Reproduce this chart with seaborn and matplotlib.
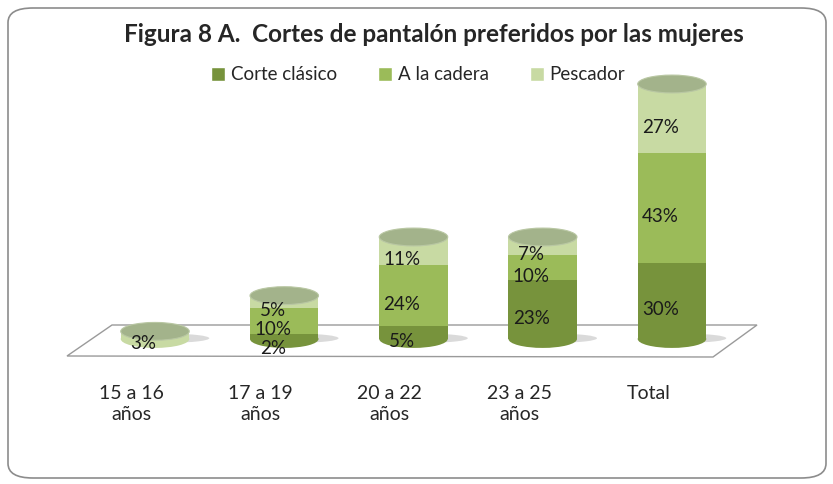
import matplotlib
matplotlib.use("Agg")
import matplotlib.pyplot as plt
import matplotlib.transforms as mtransforms
from matplotlib.patches import Ellipse, Polygon, FancyBboxPatch, Patch
import numpy as np
import pandas as pd
import seaborn as sns

# values (percent)
grupos = ["15 a 16\naños", "17 a 19\naños", "20 a 22\naños", "23 a 25\naños", "Total"]
corte_clasico = [0, 2, 5, 23, 30]
a_la_cadera = [0, 10, 24, 10, 43]
pescador = [3, 5, 11, 7, 27]
series = ["Corte clásico", "A la cadera", "Pescador"]

colores = {"Corte clásico": "#77933C", "A la cadera": "#9BBB59", "Pescador": "#C8DAA3"}
tapa = "#A3B38B"

sns.set_theme(style="white")
plt.rcParams["font.family"] = ["Lato", "DejaVu Sans"]

df = pd.DataFrame({"grupo": grupos, "Corte clásico": corte_clasico,
                   "A la cadera": a_la_cadera, "Pescador": pescador})
df["c1"] = df["Corte clásico"]
df["c2"] = df["c1"] + df["A la cadera"]
df["c3"] = df["c2"] + df["Pescador"]

W, H = 833, 484
fig = plt.figure(figsize=(W / 100, H / 100), dpi=100)

# rounded frame
fig.add_artist(FancyBboxPatch((8 / W, 6 / H), 818 / W, 470 / H,
                              boxstyle="round,pad=0,rounding_size=0.03",
                              transform=fig.transFigure, facecolor="white",
                              edgecolor="#8c8c8c", lw=1.2, zorder=0))

# floor
floor = [(67, 356), (112, 325), (757, 325), (713, 357)]
fig.add_artist(Polygon([(x / W, 1 - y / H) for x, y in floor], closed=True,
                       transform=fig.transFigure, facecolor="white",
                       edgecolor="#9a9a9a", lw=1, zorder=1))

ax = fig.add_axes([67 / W, 1 - 339 / H, 690 / W, 255 / H])
ax.patch.set_alpha(0)
ax.set_zorder(2)

bw = 0.53
eh = 7.0
pos = np.arange(len(grupos))

# shadows
for i in pos:
    ax.add_patch(Ellipse((i + 0.12, 0.3), 0.6, 3.5, facecolor="#6e6e6e",
                         alpha=0.25, lw=0, zorder=1, clip_on=False))

# bottom rounding
for i, row in df.iterrows():
    first = "Corte clásico" if row["Corte clásico"] > 0 else (
        "A la cadera" if row["A la cadera"] > 0 else "Pescador")
    ax.add_patch(Ellipse((i, 0), bw, eh, facecolor=colores[first], lw=0,
                         zorder=2, clip_on=False))

# stacked bars: draw cumulative heights from tallest to shortest
for col, s in [("c3", "Pescador"), ("c2", "A la cadera"), ("c1", "Corte clásico")]:
    sns.barplot(data=df, x="grupo", y=col, color=colores[s], width=bw,
                saturation=1, linewidth=0, ax=ax, zorder=3)

# top caps
for i, row in df.iterrows():
    ax.add_patch(Ellipse((i, row["c3"]), bw, eh, facecolor=tapa,
                         edgecolor="#b9c7a3", lw=0.8, zorder=4, clip_on=False))

# value labels
for i, row in df.iterrows():
    base = 0
    for s in series:
        v = row[s]
        if v > 0:
            dy = -3.4 if v > 2 else -4.6
            ax.text(i - 0.09, base + v / 2 + dy, f"{v}%", ha="center",
                    va="center", fontsize=13.5, color="#1a1a1a", zorder=5)
        base += v

ax.set_xlim(-0.681, 4.658)
ax.set_ylim(0, 100)
ax.set_xlabel("")
ax.set_ylabel("")
ax.set_yticks([])
sns.despine(ax=ax, left=True, bottom=True)
ax.tick_params(axis="x", length=0, pad=33, labelsize=14)
ax.set_xticks(pos)
ax.set_xticklabels(grupos, va="top", linespacing=1.3)
shift = mtransforms.ScaledTranslation(-17 / 72, 0, fig.dpi_scale_trans)
for lab in ax.get_xticklabels():
    lab.set_transform(lab.get_transform() + shift)

fig.suptitle("Figura 8 A.  Cortes de pantalón preferidos por las mujeres",
             x=434 / W, y=1 - 35 / H, va="center", fontsize=17.5, fontweight="bold")

handles = [Patch(facecolor=colores[s], label=s) for s in series]
fig.legend(handles=handles, loc="center", bbox_to_anchor=(418 / W, 1 - 75 / H),
           ncol=3, frameon=False, fontsize=13.5, handlelength=0.75,
           handleheight=0.75, handletextpad=0.3, columnspacing=2.2)

fig.savefig("out.png", dpi=100)
